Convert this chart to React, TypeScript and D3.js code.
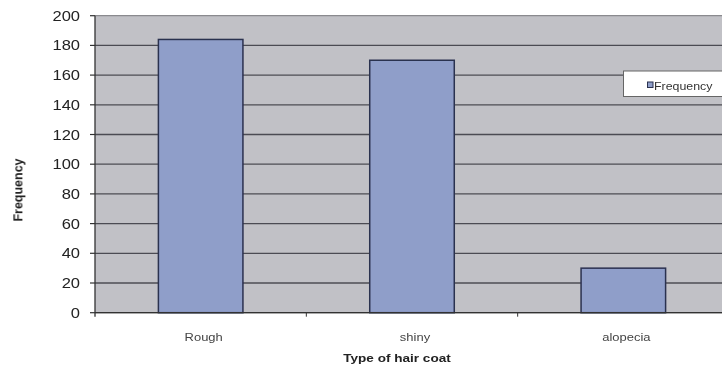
import React from "react";
import * as d3 from "d3";

const categories = ["Rough", "shiny", "alopecia"];
const frequencies = [184, 170, 30];
const yTicks = [0, 20, 40, 60, 80, 100, 120, 140, 160, 180, 200];
const seriesName = "Frequency";

// horizontal stretch applied to text glyphs
const SX = 1.18;

function Label(props: {
  x: number;
  y: number;
  anchor?: "start" | "middle" | "end";
  size: number;
  bold?: boolean;
  fill?: string;
  children: React.ReactNode;
}) {
  return (
    <text
      transform={`translate(${props.x},${props.y}) scale(${SX},1)`}
      textAnchor={props.anchor ?? "start"}
      fontSize={props.size}
      fontWeight={props.bold ? "bold" : "normal"}
      fill={props.fill ?? "#222"}
    >
      {props.children}
    </text>
  );
}

export default function App() {
  const width = 722;
  const height = 371;
  const left = 95;
  const top = 15.7;
  const bottom = 312.7;
  const right = 729;

  const x = d3.scaleBand<string>().domain(categories).range([left, right]).paddingInner(0).paddingOuter(0);
  const y = d3.scaleLinear().domain([0, 200]).range([bottom, top]);
  const barW = x.bandwidth() * 0.4;

  return (
    <svg
      width={width}
      height={height}
      style={{ position: "absolute", left: 0, top: 0, background: "#fff", fontFamily: "Liberation Sans, Arial, sans-serif" }}
    >
      <defs>
        <filter id="soft" x="-5%" y="-5%" width="110%" height="110%">
          <feGaussianBlur stdDeviation="0.4" />
        </filter>
      </defs>
      <g filter="url(#soft)">
        <rect x={left} y={top} width={right - left} height={bottom - top} fill="#c1c1c6" />
        {yTicks.map((t) => (
          <line
            key={"g" + t}
            x1={left}
            x2={right}
            y1={y(t)}
            y2={y(t)}
            stroke={t === 200 ? "#8a8a8e" : "#4c4c52"}
            strokeWidth={1.3}
          />
        ))}
        {categories.map((c, i) => {
          const cx = (x(c) as number) + x.bandwidth() / 2;
          return (
            <rect
              key={c}
              x={cx - barW / 2}
              y={y(frequencies[i])}
              width={barW}
              height={bottom - y(frequencies[i])}
              fill="#8f9ec9"
              stroke="#2b3050"
              strokeWidth={1.5}
            />
          );
        })}
        {/* axes */}
        <line x1={left} x2={left} y1={top} y2={bottom + 4} stroke="#333" strokeWidth={1.3} />
        <line x1={left} x2={right} y1={bottom} y2={bottom} stroke="#333" strokeWidth={1.3} />
        {yTicks.map((t) => (
          <line key={"t" + t} x1={left - 5} x2={left} y1={y(t)} y2={y(t)} stroke="#333" strokeWidth={1.2} />
        ))}
        {categories.map((c) => (
          <line
            key={"xt" + c}
            x1={(x(c) as number) + x.bandwidth()}
            x2={(x(c) as number) + x.bandwidth()}
            y1={bottom}
            y2={bottom + 4}
            stroke="#333"
            strokeWidth={1}
          />
        ))}
        {yTicks.map((t) => (
          <Label key={"l" + t} x={left - 15} y={y(t) + 5} anchor="end" size={14}>
            {t}
          </Label>
        ))}
        {categories.map((c) => (
          <Label key={"c" + c} x={(x(c) as number) + x.bandwidth() / 2 + 3} y={341} anchor="middle" size={11} fill="#444">
            {c}
          </Label>
        ))}
        <Label x={397} y={362} anchor="middle" size={11.5} bold>
          Type of hair coat
        </Label>
        <text
          transform="translate(22,190) rotate(-90) scale(1,1.05)"
          textAnchor="middle"
          fontSize={12.5}
          fontWeight="bold"
          fill="#222"
        >
          Frequency
        </text>
        {/* legend */}
        <rect x={623.5} y={71} width={110} height={25.5} fill="#fff" stroke="#666" strokeWidth={1} />
        <rect x={647.5} y={82} width={5.5} height={5.5} fill="#8f9ec9" stroke="#2b3050" strokeWidth={1} />
        <Label x={654} y={89.5} size={10.5} fill="#333">
          {seriesName}
        </Label>
      </g>
    </svg>
  );
}
